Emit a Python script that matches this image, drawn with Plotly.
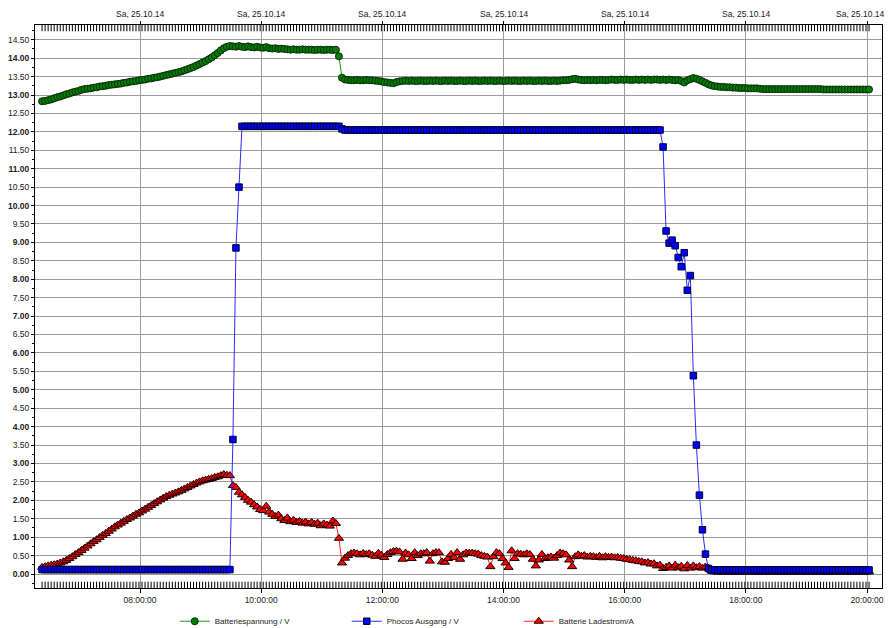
import pandas as pd
import plotly.graph_objects as go

# Logger: 25.10.2014, one sample every 3 minutes starting 06:23
LOG_START = "2014-10-25 06:23"
LOG_INTERVAL = "3min"

SERIES_NAMES = ["Batteriespannung / V", "Phocos Ausgang / V", "Batterie Ladestrom/A"]

# Batteriespannung / V
BATTERY_VOLTAGE = [
    12.83, 12.84, 12.86, 12.88, 12.91, 12.94, 12.96, 12.99, 13.02, 13.04,
    13.07, 13.09, 13.11, 13.14, 13.16, 13.17, 13.18, 13.20, 13.21, 13.23,
    13.24, 13.25, 13.27, 13.28, 13.29, 13.30, 13.31, 13.33, 13.34, 13.36,
    13.37, 13.38, 13.40, 13.41, 13.42, 13.44, 13.45, 13.47, 13.48, 13.50,
    13.52, 13.54, 13.56, 13.58, 13.60, 13.62, 13.64, 13.67, 13.70, 13.73,
    13.76, 13.80, 13.84, 13.88, 13.92, 13.97, 14.02, 14.08, 14.14, 14.21,
    14.27, 14.31, 14.33, 14.32, 14.31, 14.33, 14.31, 14.30, 14.32, 14.30,
    14.29, 14.31, 14.29, 14.28, 14.30, 14.27, 14.26, 14.27, 14.25, 14.26,
    14.25, 14.24, 14.23, 14.24, 14.23, 14.23, 14.24, 14.23, 14.23, 14.23,
    14.22, 14.23, 14.23, 14.22, 14.23, 14.23, 14.22, 14.23, 14.05, 13.47,
    13.42, 13.41, 13.40, 13.40, 13.41, 13.40, 13.40, 13.41, 13.40, 13.40,
    13.39, 13.38, 13.37, 13.35, 13.34, 13.33, 13.32, 13.35, 13.37, 13.38,
    13.39, 13.38, 13.39, 13.38, 13.38, 13.39, 13.38, 13.38, 13.39, 13.38,
    13.39, 13.38, 13.38, 13.39, 13.38, 13.39, 13.38, 13.38, 13.39, 13.38,
    13.38, 13.39, 13.38, 13.39, 13.38, 13.38, 13.39, 13.38, 13.39, 13.38,
    13.38, 13.39, 13.38, 13.38, 13.39, 13.38, 13.39, 13.38, 13.38, 13.39,
    13.38, 13.39, 13.38, 13.38, 13.39, 13.38, 13.39, 13.38, 13.38, 13.39,
    13.38, 13.39, 13.40, 13.40, 13.41, 13.43, 13.44, 13.42, 13.41, 13.40,
    13.41, 13.40, 13.41, 13.40, 13.41, 13.41, 13.40, 13.41, 13.42, 13.41,
    13.41, 13.42, 13.41, 13.42, 13.41, 13.41, 13.42, 13.41, 13.42, 13.41,
    13.42, 13.41, 13.42, 13.42, 13.41, 13.42, 13.41, 13.42, 13.41, 13.40,
    13.41, 13.38, 13.34, 13.40, 13.43, 13.46, 13.44, 13.41, 13.37, 13.33,
    13.29, 13.26, 13.24, 13.23, 13.22, 13.22, 13.21, 13.21, 13.20, 13.20,
    13.19, 13.19, 13.19, 13.18, 13.18, 13.18, 13.18, 13.17, 13.16, 13.16,
    13.16, 13.16, 13.16, 13.16, 13.16, 13.16, 13.16, 13.16, 13.16, 13.16,
    13.16, 13.16, 13.16, 13.16, 13.16, 13.16, 13.16, 13.16, 13.15, 13.15,
    13.15, 13.15, 13.15, 13.15, 13.15, 13.15, 13.15, 13.15, 13.15, 13.15,
    13.15, 13.15, 13.15, 13.15,
]

# Phocos Ausgang / V
PHOCOS_OUTPUT = [
    0.12, 0.12, 0.12, 0.12, 0.12, 0.12, 0.12, 0.12, 0.12, 0.12,
    0.12, 0.12, 0.12, 0.12, 0.12, 0.12, 0.12, 0.12, 0.12, 0.12,
    0.12, 0.12, 0.12, 0.12, 0.12, 0.12, 0.12, 0.12, 0.12, 0.12,
    0.12, 0.12, 0.12, 0.12, 0.12, 0.12, 0.12, 0.12, 0.12, 0.12,
    0.12, 0.12, 0.12, 0.12, 0.12, 0.12, 0.12, 0.12, 0.12, 0.12,
    0.12, 0.12, 0.12, 0.12, 0.12, 0.12, 0.12, 0.12, 0.12, 0.12,
    0.12, 0.12, 0.12, 3.65, 8.85, 10.50, 12.15, 12.15, 12.15, 12.15,
    12.15, 12.15, 12.15, 12.15, 12.15, 12.15, 12.15, 12.15, 12.15, 12.15,
    12.15, 12.15, 12.15, 12.15, 12.15, 12.15, 12.15, 12.15, 12.15, 12.15,
    12.15, 12.15, 12.15, 12.15, 12.15, 12.15, 12.15, 12.15, 12.15, 12.08,
    12.05, 12.05, 12.05, 12.05, 12.05, 12.05, 12.05, 12.05, 12.05, 12.05,
    12.05, 12.05, 12.05, 12.05, 12.05, 12.05, 12.05, 12.05, 12.05, 12.05,
    12.05, 12.05, 12.05, 12.05, 12.05, 12.05, 12.05, 12.05, 12.05, 12.05,
    12.05, 12.05, 12.05, 12.05, 12.05, 12.05, 12.05, 12.05, 12.05, 12.05,
    12.05, 12.05, 12.05, 12.05, 12.05, 12.05, 12.05, 12.05, 12.05, 12.05,
    12.05, 12.05, 12.05, 12.05, 12.05, 12.05, 12.05, 12.05, 12.05, 12.05,
    12.05, 12.05, 12.05, 12.05, 12.05, 12.05, 12.05, 12.05, 12.05, 12.05,
    12.05, 12.05, 12.05, 12.05, 12.05, 12.05, 12.05, 12.05, 12.05, 12.05,
    12.05, 12.05, 12.05, 12.05, 12.05, 12.05, 12.05, 12.05, 12.05, 12.05,
    12.05, 12.05, 12.05, 12.05, 12.05, 12.05, 12.05, 12.05, 12.05, 12.05,
    12.05, 12.05, 12.05, 12.05, 12.05, 11.59, 9.31, 8.98, 9.06, 8.91,
    8.59, 8.34, 8.72, 7.70, 8.10, 5.38, 3.50, 2.14, 1.20, 0.54,
    0.15, 0.11, 0.11, 0.11, 0.11, 0.11, 0.11, 0.11, 0.11, 0.11,
    0.11, 0.11, 0.11, 0.11, 0.11, 0.11, 0.11, 0.11, 0.11, 0.11,
    0.11, 0.11, 0.11, 0.11, 0.11, 0.11, 0.11, 0.11, 0.11, 0.11,
    0.11, 0.11, 0.11, 0.11, 0.11, 0.11, 0.11, 0.11, 0.11, 0.11,
    0.11, 0.11, 0.11, 0.11, 0.11, 0.11, 0.11, 0.11, 0.11, 0.11,
    0.11, 0.11, 0.11, 0.11,
]

# Batterie Ladestrom / A
CHARGE_CURRENT = [
    0.18, 0.20, 0.22, 0.24, 0.25, 0.27, 0.30, 0.33, 0.37, 0.42,
    0.47, 0.53, 0.58, 0.64, 0.70, 0.76, 0.82, 0.88, 0.93, 0.99,
    1.05, 1.10, 1.16, 1.22, 1.28, 1.33, 1.38, 1.43, 1.48, 1.52,
    1.57, 1.62, 1.66, 1.71, 1.76, 1.81, 1.86, 1.91, 1.96, 2.01,
    2.06, 2.10, 2.14, 2.17, 2.20, 2.23, 2.27, 2.31, 2.35, 2.39,
    2.43, 2.47, 2.50, 2.53, 2.55, 2.57, 2.59, 2.62, 2.64, 2.67,
    2.70, 2.68, 2.67, 2.40, 2.35, 2.22, 2.15, 2.08, 2.00, 1.95,
    1.88, 1.82, 1.75, 1.72, 1.84, 1.68, 1.62, 1.56, 1.60, 1.50,
    1.45, 1.52, 1.42, 1.46, 1.40, 1.43, 1.38, 1.41, 1.36, 1.40,
    1.35, 1.38, 1.31, 1.36, 1.33, 1.30, 1.44, 1.37, 0.97, 0.30,
    0.43, 0.50, 0.55, 0.57, 0.55, 0.52, 0.56, 0.53, 0.55, 0.51,
    0.48, 0.56, 0.51, 0.45, 0.53, 0.58, 0.61, 0.62, 0.60, 0.40,
    0.57, 0.52, 0.42, 0.58, 0.50, 0.55, 0.55, 0.58, 0.35, 0.55,
    0.58, 0.58, 0.33, 0.32, 0.42, 0.53, 0.45, 0.58, 0.40, 0.52,
    0.57, 0.56, 0.57, 0.55, 0.54, 0.50, 0.48, 0.46, 0.20, 0.47,
    0.58, 0.55, 0.42, 0.30, 0.18, 0.63, 0.42, 0.55, 0.54, 0.52,
    0.55, 0.53, 0.40, 0.22, 0.38, 0.53, 0.42, 0.44, 0.46, 0.43,
    0.50, 0.57, 0.55, 0.52, 0.38, 0.20, 0.47, 0.52, 0.48, 0.50,
    0.46, 0.48, 0.47, 0.45, 0.48, 0.44, 0.47, 0.45, 0.46, 0.44,
    0.45, 0.43, 0.42, 0.40, 0.39, 0.37, 0.36, 0.34, 0.33, 0.30,
    0.31, 0.27, 0.28, 0.22, 0.24, 0.15, 0.18, 0.22, 0.16, 0.24,
    0.17, 0.21, 0.14, 0.23, 0.16, 0.22, 0.17, 0.20, 0.16, 0.19,
    0.16, 0.08, 0.06, 0.05, 0.06, 0.05, 0.06, 0.05, 0.05, 0.06,
    0.05, 0.06, 0.05, 0.05, 0.06, 0.05, 0.05, 0.06, 0.05, 0.05,
    0.06, 0.05, 0.05, 0.06, 0.05, 0.05, 0.06, 0.05, 0.05, 0.06,
    0.05, 0.05, 0.06, 0.05, 0.05, 0.06, 0.05, 0.05, 0.06, 0.05,
    0.05, 0.06, 0.05, 0.05, 0.06, 0.05, 0.05, 0.06, 0.05, 0.05,
    0.06, 0.05, 0.05, 0.06,
]

# Axis ticks and labels
Y_TICKS = [0.0, 0.5, 1.0, 1.5, 2.0, 2.5, 3.0, 3.5, 4.0, 4.5, 5.0, 5.5, 6.0, 6.5, 7.0,
           7.5, 8.0, 8.5, 9.0, 9.5, 10.0, 10.5, 11.0, 11.5, 12.0, 12.5, 13.0, 13.5,
           14.0, 14.5]
X_TICK_TIMES = ["2014-10-25 08:00", "2014-10-25 10:00", "2014-10-25 12:00",
                "2014-10-25 14:00", "2014-10-25 16:00", "2014-10-25 18:00",
                "2014-10-25 20:00"]
X_TICK_TIME_LABELS = ["08:00:00", "10:00:00", "12:00:00", "14:00:00",
                      "16:00:00", "18:00:00", "20:00:00"]
X_TICK_DATE_LABEL = "Sa, 25.10.14"
X_RANGE = ["2014-10-25 06:16:00", "2014-10-25 20:14:50"]
Y_RANGE = [-0.38, 14.90]

times = pd.date_range(LOG_START, periods=len(BATTERY_VOLTAGE), freq=LOG_INTERVAL)

FONT = "Liberation Sans, Arial, sans-serif"
GRID = "#9a9a9a"
TEXT = "#222222"


def y_label(v):
    s = f"{v:.2f}"
    return f"<b>{s}</b>" if float(v).is_integer() else s


fig = go.Figure()

# Sample marks along the bottom and top frame edges (half clipped by the frame)
for edge in (Y_RANGE[0], Y_RANGE[1]):
    fig.add_trace(go.Scatter(
        x=times, y=[edge] * len(times), mode="markers", cliponaxis=True,
        marker=dict(symbol="line-ns", size=9, color="#000000",
                    line=dict(color="#000000", width=1)),
        showlegend=False, hoverinfo="skip",
    ))

# Battery voltage (green circles)
fig.add_trace(go.Scatter(
    x=times, y=BATTERY_VOLTAGE, name=SERIES_NAMES[0], mode="lines+markers",
    line=dict(color="#1f9a1f", width=1),
    marker=dict(symbol="circle", size=7, color="#008000",
                line=dict(color="#0d2a0d", width=1)),
    legendrank=1,
))
# Charge current (red triangles) drawn below the controller output
fig.add_trace(go.Scatter(
    x=times, y=CHARGE_CURRENT, name=SERIES_NAMES[2], mode="lines+markers",
    line=dict(color="#ff2020", width=1),
    marker=dict(symbol="triangle-up", size=8, color="#ff0000",
                line=dict(color="#1a0000", width=1)),
    legendrank=3,
))
# Controller output (blue squares)
fig.add_trace(go.Scatter(
    x=times, y=PHOCOS_OUTPUT, name=SERIES_NAMES[1], mode="lines+markers",
    line=dict(color="#2a2aff", width=1),
    marker=dict(symbol="square", size=6.5, color="#0000ff",
                line=dict(color="#000033", width=1)),
    legendrank=2,
))

# Placeholder trace so the overlaid top axis is rendered
fig.add_trace(go.Scatter(x=times[:1], y=[None], xaxis="x2", yaxis="y",
                         showlegend=False, hoverinfo="skip"))

tick_font = dict(family=FONT, size=8.5, color=TEXT)

# Date labels above the plot; the last one is kept inside the page
annotations = []
for i, t in enumerate(X_TICK_TIMES):
    last = i == len(X_TICK_TIMES) - 1
    annotations.append(dict(
        x=1.0 if last else t, xref="paper" if last else "x",
        y=1.0, yref="paper", yanchor="bottom", yshift=4,
        xanchor="right" if last else "center", xshift=4 if last else 0,
        text=X_TICK_DATE_LABEL, showarrow=False, font=tick_font,
    ))

fig.update_layout(
    width=889, height=628,
    margin=dict(l=35, r=7, t=25, b=40, autoexpand=False),
    paper_bgcolor="white", plot_bgcolor="white",
    font=dict(family=FONT, size=8, color=TEXT),
    xaxis=dict(
        type="date", range=X_RANGE,
        tickmode="array", tickvals=X_TICK_TIMES, ticktext=X_TICK_TIME_LABELS,
        tickfont=tick_font, ticks="outside", ticklen=4, tickcolor="#000",
        ticklabeloverflow="allow",
        showgrid=True, gridcolor=GRID, gridwidth=1,
        showline=True, linecolor="#000", linewidth=1, mirror=True,
        zeroline=False,
    ),
    # crossing ticks at the top
    xaxis2=dict(
        type="date", overlaying="x", matches="x", side="top", anchor="y",
        tickmode="array", tickvals=X_TICK_TIMES, showticklabels=False,
        ticks="outside", ticklen=3, tickcolor="#000",
        showgrid=False, showline=False, zeroline=False,
    ),
    yaxis=dict(
        range=Y_RANGE,
        tickmode="array", tickvals=Y_TICKS, ticktext=[y_label(v) for v in Y_TICKS],
        tickfont=tick_font, ticks="outside", ticklen=3, tickcolor="#000",
        minor=dict(tickmode="linear", tick0=0, dtick=0.25, ticks="outside",
                   ticklen=2, tickcolor="#000", showgrid=False),
        showgrid=True, gridcolor=GRID, gridwidth=1,
        showline=True, linecolor="#000", linewidth=1, mirror=True,
        zeroline=False,
    ),
    annotations=annotations,
    legend=dict(
        orientation="h", x=0.165, xanchor="left", y=-0.059, yanchor="middle",
        font=dict(family=FONT, size=8, color=TEXT),
        entrywidth=127, entrywidthmode="pixels",
        bgcolor="rgba(0,0,0,0)", itemclick=False,
    ),
    showlegend=True,
)

fig.write_html("out.html")
